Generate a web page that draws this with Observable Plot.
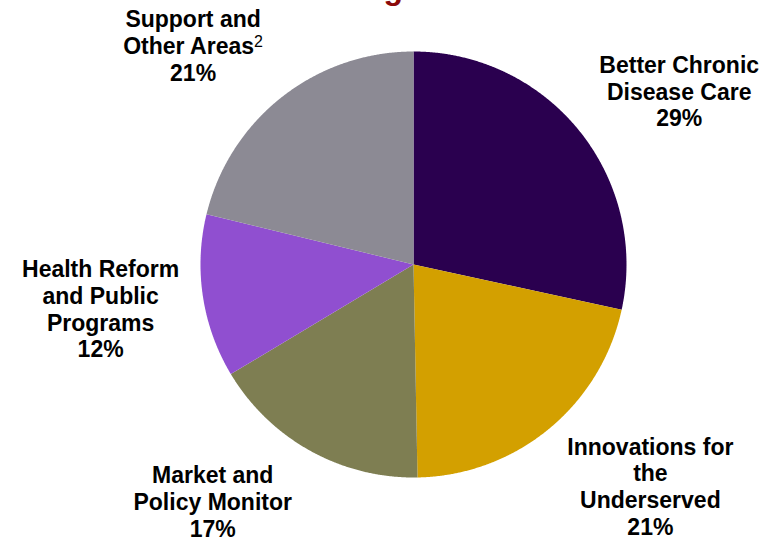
<!DOCTYPE html>
<html>
<head>
<meta charset="utf-8">
<script src="https://cdn.jsdelivr.net/npm/d3@7"></script>
<script src="https://cdn.jsdelivr.net/npm/@observablehq/plot@0.6"></script>
<style>
  html, body { margin: 0; padding: 0; background: #fff; overflow: hidden; }
  #wrap { position: relative; width: 774px; height: 538px; overflow: hidden; }
  #title { position: absolute; top: -30px; right: 371px; font-family: "Liberation Sans", Arial, sans-serif;
           font-weight: bold; font-size: 32px; color: #8b0a0a; white-space: nowrap; line-height: normal; }
  #chart { position: absolute; left: 0; top: 0; }
</style>
</head>
<body>
<div id="wrap">
  <div id="title">Funding</div>
  <div id="chart"></div>
</div>
<script>
// ---- data ----
const categories = [
  "Better Chronic Disease Care",
  "Innovations for the Underserved",
  "Market and Policy Monitor",
  "Health Reform and Public Programs",
  "Support and Other Areas"
];
const labelLines = [
  "Better Chronic\nDisease Care",
  "Innovations for\nthe\nUnderserved",
  "Market and\nPolicy Monitor",
  "Health Reform\nand Public\nPrograms",
  "Support and\nOther Areas²"
];
const shares = [28.4, 21.3, 16.7, 12.4, 21.2];          // slice sizes
const percentLabels = ["29%", "21%", "17%", "12%", "21%"]; // printed labels
const colors = ["#2a004f", "#d3a000", "#7e7e52", "#904fd0", "#8c8a94"];

// ---- layout (label nudges in pixels, not data) ----
const labelRadius = 1.5;
const labelNudge = [[17, 27], [34, -25], [-46, -43], [3, -4], [-23, 32]];

// ---- build slice outlines from shares ----
const total = d3.sum(shares);
const slicePts = [];
const labels = [];
let cum = 0;
shares.forEach((v, i) => {
  const a0 = cum / total * 2 * Math.PI;
  cum += v;
  const a1 = cum / total * 2 * Math.PI;
  const name = categories[i];
  slicePts.push({name, x: 0, y: 0});
  const n = Math.max(2, Math.ceil((a1 - a0) / (Math.PI / 720)));
  for (let k = 0; k <= n; k++) {
    const a = a0 + (a1 - a0) * k / n;
    slicePts.push({name, x: Math.sin(a), y: Math.cos(a)});
  }
  slicePts.push({name, x: 0, y: 0});
  const am = (a0 + a1) / 2;
  labels.push({
    name,
    text: labelLines[i] + "\n" + percentLabels[i],
    x: labelRadius * Math.sin(am),
    y: labelRadius * Math.cos(am),
    dx: labelNudge[i][0],
    dy: labelNudge[i][1]
  });
});

const R = 213, cx = 413, cy = 264;

const plot = Plot.plot({
  width: 774,
  height: 538,
  margin: 0,
  style: {background: "transparent", overflow: "hidden"},
  x: {type: "linear", domain: [-1, 1], range: [cx - R, cx + R], axis: null},
  y: {type: "linear", domain: [-1, 1], range: [cy + R, cy - R], axis: null},
  color: {domain: categories, range: colors},
  marks: [
    Plot.line(slicePts, {x: "x", y: "y", z: "name", fill: "name", stroke: "none", curve: "linear"}),
    ...labels.map(l => Plot.text([l], {
      x: "x", y: "y", text: "text", dx: l.dx, dy: l.dy,
      lineAnchor: "middle", lineHeight: 1.17,
      fontFamily: "'Liberation Sans', Arial, sans-serif",
      fontWeight: "bold", fontSize: 23, fill: "black", textAnchor: "middle"
    }))
  ]
});
document.getElementById("chart").appendChild(plot);

// superscript "2" in normal weight (baseline-shift keeps following lines in place)
plot.querySelectorAll("tspan, text").forEach(el => {
  if (el.childNodes.length === 1 && el.firstChild.nodeType === 3 && el.textContent.includes("Areas²")) {
    el.textContent = el.textContent.replace("²", "");
    const sup = document.createElementNS("http://www.w3.org/2000/svg", "tspan");
    sup.textContent = "2";
    sup.setAttribute("font-weight", "normal");
    sup.setAttribute("font-size", "16");
    sup.setAttribute("baseline-shift", "45%");
    el.appendChild(sup);
  }
});
</script>
</body>
</html>
